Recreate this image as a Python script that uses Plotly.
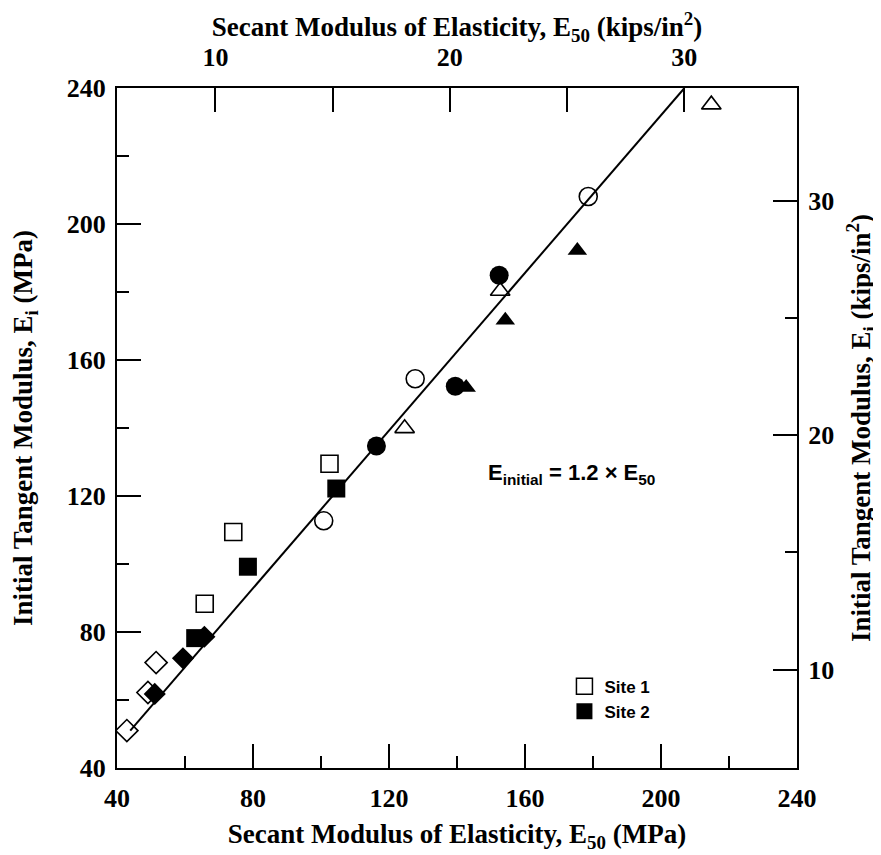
import plotly.graph_objects as go

MPA_PER_KSI = 6.895

# ---- data (MPa) ----
s1_diamond_x = [42.9, 51.5, 49.1]
s1_diamond_y = [51.0, 71.0, 62.2]
s1_square_x = [65.8, 74.2, 102.5]
s1_square_y = [88.3, 109.4, 129.5]
s1_circle_x = [100.8, 127.7, 178.6]
s1_circle_y = [112.7, 154.5, 208.1]
s1_triangle_x = [124.6, 152.7, 214.8]
s1_triangle_y = [139.9, 180.3, 235.1]

s2_diamond_x = [51.1, 59.4, 65.7]
s2_diamond_y = [61.8, 72.3, 78.6]
s2_square_x = [63.0, 78.5, 104.5]
s2_square_y = [78.2, 99.2, 122.2]
s2_circle_x = [116.3, 139.5, 152.4]
s2_circle_y = [134.7, 152.3, 184.9]
s2_triangle_x = [142.7, 154.2, 175.4]
s2_triangle_y = [151.9, 171.7, 192.2]

fit_x = [43.9, 206.9]
fit_y = [51.0, 240.0]

mpa_ticks = [40, 80, 120, 160, 200, 240]
ksi_ticks = [10, 20, 30]
ksi_minor_ticks = [15, 25]

SERIF = "Liberation Serif"
SANS = "Liberation Sans"

fig = go.Figure()

fig.add_trace(go.Scatter(x=fit_x, y=fit_y, mode="lines",
                         line=dict(color="black", width=2), showlegend=False,
                         hoverinfo="skip"))

def add_pts(xs, ys, symbol, size, filled):
    fig.add_trace(go.Scatter(
        x=xs, y=ys, mode="markers", showlegend=False,
        marker=dict(symbol=symbol if filled else symbol + "-open",
                    size=size, color="black",
                    line=dict(color="black", width=1.6 if not filled else 0))))

add_pts(s1_diamond_x, s1_diamond_y, "diamond", 17, False)
add_pts(s1_square_x, s1_square_y, "square", 17, False)
add_pts(s1_circle_x, s1_circle_y, "circle", 18, False)
add_pts(s1_triangle_x, s1_triangle_y, "triangle-up", 17, False)
add_pts(s2_diamond_x, s2_diamond_y, "diamond", 17, True)
add_pts(s2_square_x, s2_square_y, "square", 18, True)
add_pts(s2_circle_x, s2_circle_y, "circle", 19, True)
add_pts(s2_triangle_x, s2_triangle_y, "triangle-up", 17, True)

# legend entries
fig.add_trace(go.Scatter(x=[None], y=[None], mode="markers", name="Site 1",
                         marker=dict(symbol="square-open", size=16, color="black",
                                     line=dict(width=1.5, color="black"))))
fig.add_trace(go.Scatter(x=[None], y=[None], mode="markers", name="Site 2",
                         marker=dict(symbol="square", size=16, color="black")))

# trace on secondary axes so they get drawn
fig.add_trace(go.Scatter(x=[None], y=[None], xaxis="x2", yaxis="y2",
                         showlegend=False, hoverinfo="skip"))

tickfont = dict(family=SERIF, size=26, color="black", weight="bold")
titlefont = dict(family=SERIF, size=27, color="black", weight="bold")

common = dict(showgrid=False, zeroline=False, showline=True, linecolor="black",
              linewidth=2, ticks="inside", ticklen=24, tickwidth=2,
              tickcolor="black", tickfont=tickfont, automargin=False)

# page body has an 8px default margin, so the figure is offset by (8, 8)
fig.update_layout(
    width=881, height=855,
    margin=dict(l=109, r=92, t=80, b=95),
    plot_bgcolor="white", paper_bgcolor="white",
    showlegend=True,
    legend=dict(x=0.658, y=0.146, xanchor="left", yanchor="top",
                bgcolor="rgba(0,0,0,0)",
                font=dict(family=SANS, size=17, color="black", weight="bold"),
                tracegroupgap=0, itemwidth=30),
    xaxis=dict(range=[40, 240], tickvals=mpa_ticks,
               minor=dict(dtick=20, tick0=40, ticks="inside", ticklen=12,
                          tickwidth=2, tickcolor="black"),
               title=dict(text="Secant Modulus of Elasticity, E<sub>50</sub> (MPa)",
                          font=titlefont, standoff=12),
               ticklabelstandoff=6,
               **common),
    yaxis=dict(range=[40, 240], tickvals=mpa_ticks,
               minor=dict(dtick=20, tick0=40, ticks="inside", ticklen=12,
                          tickwidth=2, tickcolor="black"),
               title=dict(text="Initial Tangent Modulus, E<sub>i</sub> (MPa)",
                          font=titlefont, standoff=26),
               ticklabelstandoff=4,
               **common),
    xaxis2=dict(overlaying="x", side="top", anchor="y",
                range=[40 / MPA_PER_KSI, 240 / MPA_PER_KSI],
                tickvals=ksi_ticks,
                minor=dict(tickvals=ksi_minor_ticks, ticks="inside", ticklen=24,
                           tickwidth=2, tickcolor="black"),
                title=dict(text="Secant Modulus of Elasticity, E<sub>50</sub> (kips/in<sup>2</sup>)",
                           font=titlefont, standoff=13),
                ticklabelstandoff=10,
                **common),
    yaxis2=dict(overlaying="y", side="right", anchor="x",
                range=[40 / MPA_PER_KSI, 240 / MPA_PER_KSI],
                tickvals=ksi_ticks,
                minor=dict(tickvals=ksi_minor_ticks, ticks="inside", ticklen=12,
                           tickwidth=2, tickcolor="black"),
                title=dict(text="Initial Tangent Modulus, E<sub>i</sub> (kips/in<sup>2</sup>)",
                           font=titlefont, standoff=18),
                ticklabelstandoff=4,
                **common),
)

fig.add_annotation(x=173.6, y=126.4, xref="x", yref="y",
                   text="E<sub>initial</sub> = 1.2 × E<sub>50</sub>",
                   showarrow=False,
                   font=dict(family=SANS, size=22, color="black", weight="bold"))

fig.write_html("out.html")
